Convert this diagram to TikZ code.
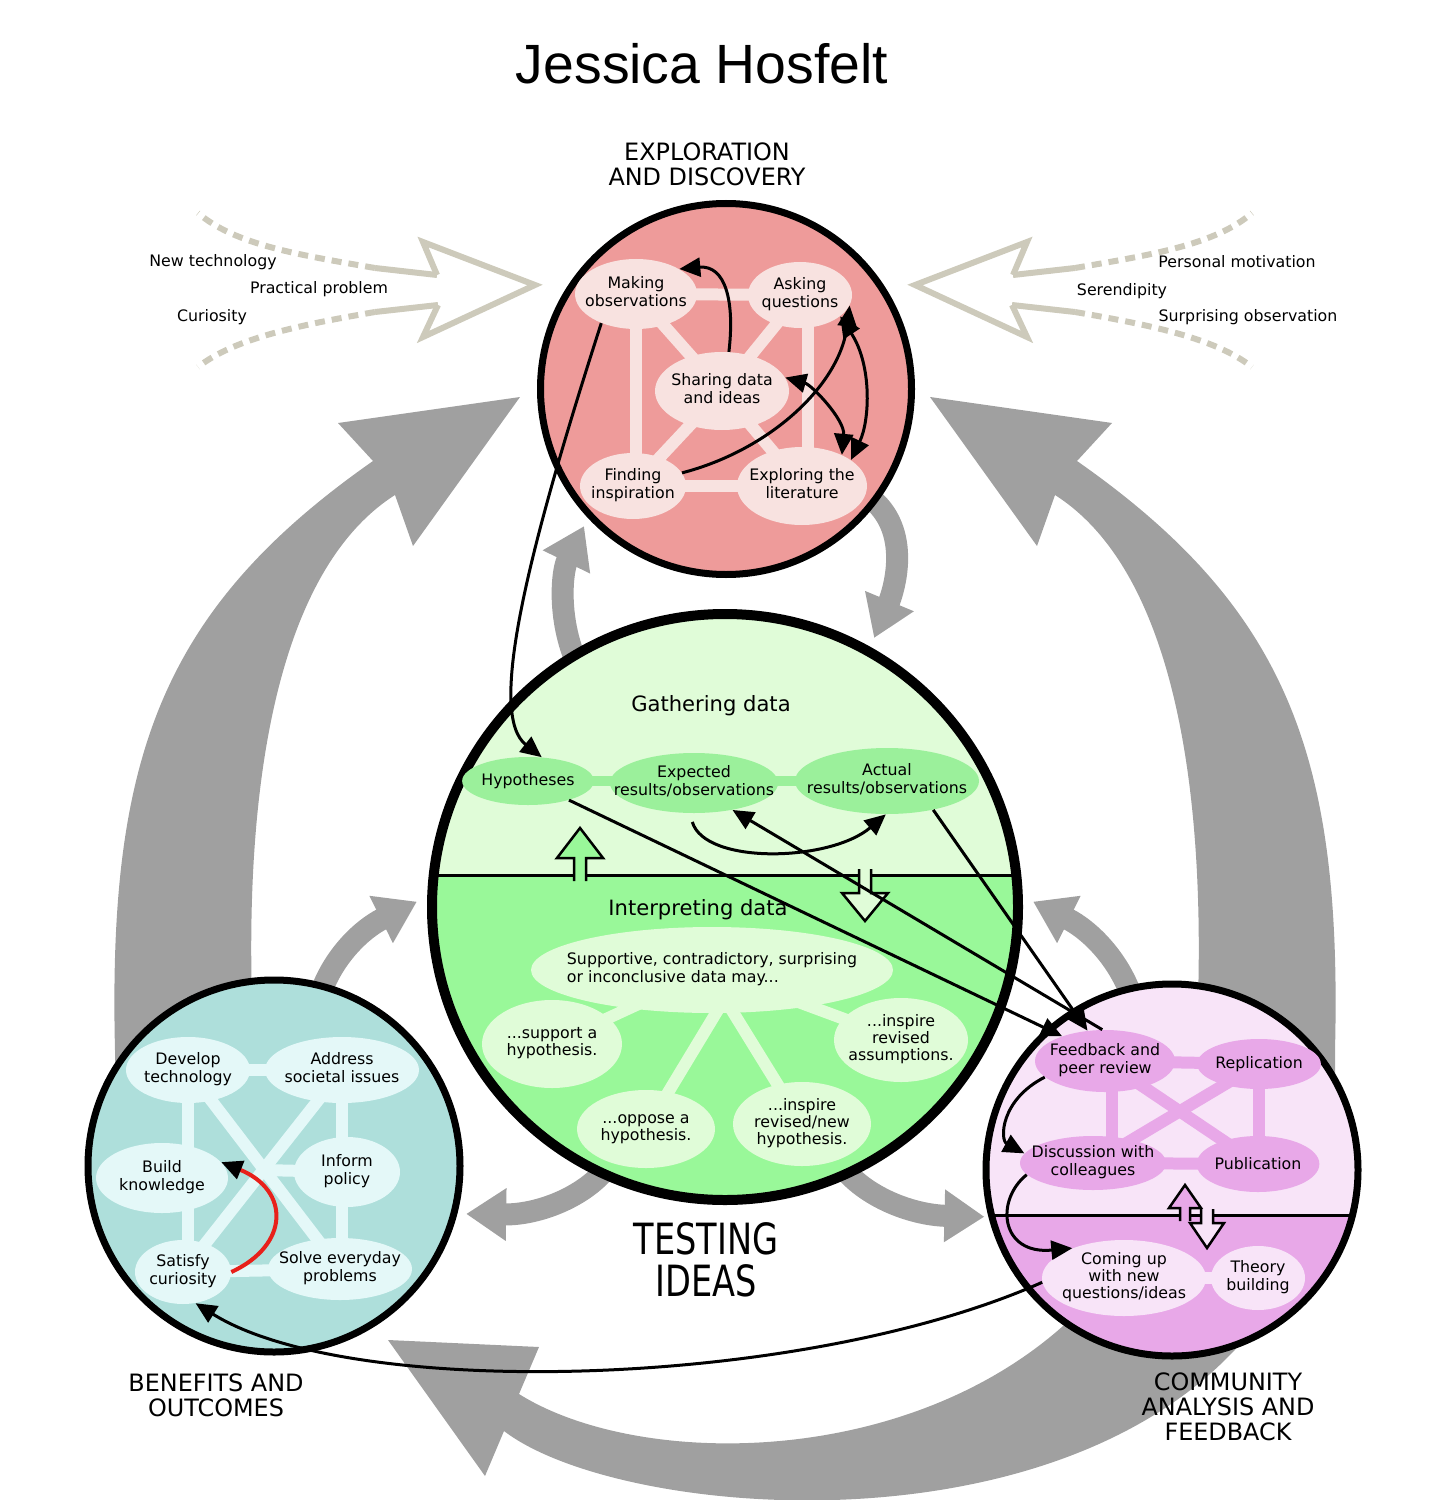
\documentclass[tikz,border=0pt]{standalone}
\usepackage{fontspec}
\setmainfont{DejaVu Sans}
\newfontfamily\titlefont{Liberation Sans}
\newfontfamily\narrowfont[FakeStretch=0.78]{DejaVu Sans}
\usepackage{tikz}
\usetikzlibrary{shapes.geometric, arrows.meta, calc}
\definecolor{ExploreFill}{RGB}{238, 155, 154}
\definecolor{ExploreLight}{RGB}{248, 226, 224}
\definecolor{TestTop}{RGB}{224, 252, 216}
\definecolor{TestLow}{RGB}{153, 248, 153}
\definecolor{TestBub}{RGB}{155, 240, 155}
\definecolor{BenefitFill}{RGB}{174, 223, 219}
\definecolor{BenefitLight}{RGB}{228, 248, 248}
\definecolor{CommTop}{RGB}{248, 228, 248}
\definecolor{CommLow}{RGB}{232, 168, 232}
\definecolor{Swoosh}{RGB}{160, 160, 160}
\definecolor{Lure}{RGB}{205, 202, 187}
\definecolor{RedLine}{RGB}{232, 32, 26}
\pgfdeclarelayer{swoosh}
\pgfdeclarelayer{back}
\pgfdeclarelayer{links}
\pgfsetlayers{swoosh,back,links,main}
\newcommand{\bubtext}[1]{\makebox[0pt]{\begin{tabular}{@{}c@{}}#1\end{tabular}}}
\newcommand{\bubtextl}[1]{\makebox[0pt]{\begin{tabular}{@{}l@{}}#1\end{tabular}}}

\begin{document}
\begin{tikzpicture}[x=0.02cm, y=-0.02cm,
      >={Triangle[length=0.42cm, width=0.38cm]},
      sz/.style 2 args={minimum width=#1*0.02cm, minimum height=#2*0.02cm},
      bub/.style={ellipse, inner sep=0pt, font=\fontsize{9}{9.6}\selectfont},
      rbub/.style={bub, fill=ExploreLight},
      gbub/.style={bub, fill=TestBub},
      lbub/.style={bub, fill=TestTop},
      tbub/.style={bub, fill=BenefitLight},
      pbub/.style={bub, fill=CommLow},
      plbub/.style={bub, fill=CommTop},
      stage/.style={circle, draw=black, line width=0.14cm, inner sep=0pt},
      link/.style={line width=0.24cm},
      conn/.style={->, line width=0.06cm},
      redconn/.style={draw=RedLine, line width=0.08cm, -{Triangle[length=0.42cm, width=0.38cm, color=black]}},
      feed/.style={draw=Swoosh, line width=0.44cm, -{Triangle[length=0.8cm, width=1.0cm]}},
      lure/.style={draw=Lure, line width=0.12cm},
      lurebroken/.style={lure, dash pattern=on 0.2cm off 0.14cm},
      hollow/.style={draw=black, line width=0.05cm, line join=miter},
      head/.style={font=\fontsize{13.6}{14.2}\selectfont, align=center},
      small/.style={font=\fontsize{9}{9.6}\selectfont}
    ]
      \useasboundingbox (0,0) rectangle (1447,1500);

      % titles
      \node[font=\titlefont\fontsize{31.5}{36}\selectfont] (title) at (702,64) {Jessica Hosfelt};
      \node[head] (explabel) at (707,164) {EXPLORATION\\AND DISCOVERY};
      \node[font=\narrowfont\fontsize{24.5}{24}\selectfont, align=center] (testlabel) at (706,1260) {TESTING\\IDEAS};
      \node[head] (benlabel) at (216,1395) {BENEFITS AND\\OUTCOMES};
      \node[head] (comlabel) at (1228,1407) {COMMUNITY\\ANALYSIS AND\\FEEDBACK};

      % the four stages
      \begin{pgfonlayer}{back}
      \node[stage, fill=ExploreFill, minimum size=371*0.02cm] (explore) at (726,389) {};
      \node[stage, line width=0.2cm, fill=TestTop, minimum size=586*0.02cm,
        path picture={\fill[TestLow] ([yshift=0.64cm]path picture bounding box.west) rectangle (path picture bounding box.south east);
          \draw[line width=0.06cm] ([yshift=0.64cm]path picture bounding box.west) -- ([yshift=0.64cm]path picture bounding box.east);}] (testing) at (725,907) {};
      \node[stage, fill=BenefitFill, minimum size=372*0.02cm] (benefits) at (274,1166) {};
      \node[stage, fill=CommTop, minimum size=372*0.02cm,
        path picture={\fill[CommLow] ([yshift=-0.9cm]path picture bounding box.west) rectangle (path picture bounding box.south east);
          \draw[line width=0.06cm] ([yshift=-0.9cm]path picture bounding box.west) -- ([yshift=-0.9cm]path picture bounding box.east);}] (community) at (1172,1170) {};
      \end{pgfonlayer}

      % big grey loop and small grey arrows
      \begin{pgfonlayer}{swoosh}
      \begin{scope}
        \clip (0,0) rectangle (1447,1500);
        \fill[Swoosh] (115,1100) -- (115,1050) .. controls (108,760) and (160,610) .. (373,461) -- (338,423) -- (520,397)
          -- (413,546) -- (395,495) .. controls (285,565) and (245,760) .. (252,1000) -- cycle;
        \fill[Swoosh] (1335,1100) -- (1335,1050) .. controls (1342,760) and (1290,610) .. (1077,461) -- (1112,423) -- (930,397)
          -- (1037,546) -- (1055,495) .. controls (1165,565) and (1205,760) .. (1198,1000) -- cycle;
        \fill[Swoosh] (1080,1310) .. controls (920,1470) and (640,1470) .. (519,1394) -- (539,1347) -- (388,1340)
          -- (485,1476) -- (504,1431) .. controls (620,1520) and (1080,1560) .. (1260,1320) -- cycle;
      \end{scope}
      \draw[feed] ($(explore.center)!0.937!(explore.-37)$) .. controls (915,530) and (892,595) .. ($(testing.center)!1.032!(testing.61)$);
      \draw[feed] ($(testing.center)!0.81!(testing.121)$) .. controls (555,650) and (560,575) .. ($(explore.center)!1.044!(explore.-136)$);
      \draw[feed] ($(benefits.center)!0.906!(benefits.75)$) .. controls (330,960) and (360,930) .. ($(testing.center)!1.034!(testing.179)$);
      \draw[feed] ($(testing.center)!0.933!(testing.-114)$) .. controls (590,1195) and (540,1215) .. ($(benefits.center)!1.045!(benefits.-14)$);
      \draw[feed] ($(community.center)!0.92!(community.103)$) .. controls (1120,960) and (1090,930) .. ($(testing.center)!1.034!(testing.1)$);
      \draw[feed] ($(testing.center)!0.933!(testing.-66)$) .. controls (860,1195) and (910,1215) .. ($(community.center)!1.02!(community.-166)$);
      \end{pgfonlayer}

      % outside influences
      \draw[lure, line join=miter] (437,275) -- (423,242) -- (535,285) -- (423,337) -- (438,305);
      \draw[lure] (437,275) -- (375,268);
      \draw[lurebroken] (375,268) .. controls (300,255) and (235,245) .. (198,213);
      \draw[lure] (438,305) -- (375,312);
      \draw[lurebroken] (375,312) .. controls (300,325) and (235,338) .. (198,367);
      \draw[lure, line join=miter] (1013,275) -- (1027,242) -- (915,285) -- (1027,337) -- (1012,305);
      \draw[lure] (1013,275) -- (1075,268);
      \draw[lurebroken] (1075,268) .. controls (1150,255) and (1215,245) .. (1252,213);
      \draw[lure] (1012,305) -- (1075,312);
      \draw[lurebroken] (1075,312) .. controls (1150,325) and (1215,338) .. (1252,367);
      \node[small] (newtech) at (213,262) {New technology};
      \node[small] (practical) at (319,289) {Practical problem};
      \node[small] (curiosity) at (212,317) {Curiosity};
      \node[small] (personal) at (1237,262) {Personal motivation};
      \node[small] (serendip) at (1122,291) {Serendipity};
      \node[small] (surprising) at (1248,317) {Surprising observation};

      % exploration and discovery
      \node[rbub, sz={122}{70}] (make) at (636,294) {\bubtext{Making\\observations}};
      \node[rbub, sz={104}{66}] (ask) at (800,295) {\bubtext{Asking\\questions}};
      \node[rbub, sz={134}{78}] (share) at (722,391) {\bubtext{Sharing data\\and ideas}};
      \node[rbub, sz={106}{66}] (find) at (633,486) {\bubtext{Finding\\inspiration}};
      \node[rbub, sz={130}{78}] (lit) at (802,486) {\bubtext{Exploring the\\literature}};

      % testing ideas
      \node[font=\fontsize{12}{13}\selectfont] (gather) at (711,706) {Gathering data};
      \node[gbub, sz={120}{48}] (hypo) at (528,781) {Hypotheses};
      \node[gbub, sz={168}{60}] (expect) at (694,783) {\bubtext{Expected\\results/observations}};
      \node[gbub, sz={184}{66}] (actual) at (887,781) {\bubtext{Actual\\results/observations}};
      \node[font=\fontsize{12}{13}\selectfont] (interpret) at (698,910) {Interpreting data};
      \node[lbub, sz={362}{86}] (may) at (712,970) {\bubtextl{Supportive, contradictory, surprising\\or inconclusive data may...}};
      \node[lbub, sz={140}{88}] (support) at (552,1044) {\bubtext{...support a\\hypothesis.}};
      \node[lbub, sz={138}{78}] (oppose) at (646,1129) {\bubtext{...oppose a\\hypothesis.}};
      \node[lbub, sz={138}{84}] (newhyp) at (802,1124) {\bubtext{...inspire\\revised/new\\hypothesis.}};
      \node[lbub, sz={134}{84}] (assume) at (901,1040) {\bubtext{...inspire\\revised\\assumptions.}};
      \draw[hollow, fill=TestLow] (574,881) -- (574,858) -- (557,858) -- (580,828) -- (603,858) -- (586,858) -- (586,881);
      \draw[hollow, fill=TestTop] (859,869) -- (859,893) -- (842,893) -- (865,921) -- (888,893) -- (871,893) -- (871,869);

      % benefits and outcomes
      \node[tbub, sz={124}{66}] (tech) at (188,1070) {\bubtext{Develop\\technology}};
      \node[tbub, sz={154}{66}] (society) at (342,1070) {\bubtext{Address\\societal issues}};
      \node[tbub, sz={132}{70}] (know) at (162,1178) {\bubtext{Build\\knowledge}};
      \node[tbub, sz={106}{70}] (policy) at (347,1172) {\bubtext{Inform\\policy}};
      \node[tbub, sz={96}{64}] (curious) at (183,1272) {\bubtext{Satisfy\\curiosity}};
      \node[tbub, sz={144}{62}] (everyday) at (340,1269) {\bubtext{Solve everyday\\problems}};
      \coordinate (hub) at (262,1170);

      % community analysis and feedback
      \node[pbub, sz={140}{62}] (review) at (1105,1061) {\bubtext{Feedback and\\peer review}};
      \node[pbub, sz={104}{50}] (replic) at (1259,1064) {Replication};
      \node[pbub, sz={146}{54}] (discuss) at (1093,1163) {\bubtext{Discussion with\\colleagues}};
      \node[pbub, sz={106}{56}] (publish) at (1258,1164) {Publication};
      \node[plbub, sz={164}{76}] (comingup) at (1124,1278) {\bubtext{Coming up\\with new\\questions/ideas}};
      \node[plbub, sz={94}{64}] (theory) at (1258,1278) {\bubtext{Theory\\building}};
      \draw[hollow, fill=CommLow] (1180,1221) -- (1180,1208) -- (1169,1208) -- (1185,1185) -- (1201,1208) -- (1190,1208) -- (1190,1221);
      \draw[hollow, fill=CommTop] (1201,1209) -- (1201,1223) -- (1190,1223) -- (1207,1248) -- (1224,1223) -- (1213,1223) -- (1213,1209);

      % links between bubbles
      \begin{pgfonlayer}{links}
      \draw[link, ExploreLight] (make.center) -- (ask.center);
      \draw[link, ExploreLight] (find.center) -- (lit.center);
      \draw[link, ExploreLight] (make.center) -- (make.center |- find.center);
      \draw[link, ExploreLight] ([xshift=0.16cm]ask.center) -- ([xshift=0.16cm]ask.center |- lit.center);
      \foreach \b in {make, ask, find, lit}
        \draw[link, ExploreLight] (share.center) -- (\b.center);
      \draw[link, line width=0.2cm, TestBub] (hypo.center) -- (actual.center);
      \draw[link, TestTop] (may.center) -- (support.center);
      \draw[link, TestTop] (may.center) -- (assume.center);
      \draw[link, TestTop] ([xshift=0.6cm]may.center) -- (oppose.center);
      \draw[link, TestTop] ([xshift=-0.1cm]may.center) -- (newhyp.center);
      \draw[link, BenefitLight] (tech.center) -- (society.center);
      \draw[link, BenefitLight] (curious.center) -- (everyday.center);
      \draw[link, BenefitLight] (tech.center) -- (tech.center |- curious.center);
      \draw[link, BenefitLight] (society.center) -- (society.center |- everyday.center);
      \draw[link, BenefitLight] (tech.center) -- (everyday.center);
      \draw[link, BenefitLight] (society.center) -- (curious.center);
      \draw[link, BenefitLight] (hub) -- (policy.center);
      \draw[link, CommLow] (review.center) -- (replic.center);
      \draw[link, CommLow] (discuss.center) -- (publish.center);
      \draw[link, CommLow] ([xshift=0.14cm]review.center) -- ([xshift=0.14cm]review.center |- discuss.center);
      \draw[link, CommLow] (replic.center) -- (replic.center |- publish.center);
      \draw[link, CommLow] (review.center) -- (publish.center);
      \draw[link, CommLow] (replic.center) -- (discuss.center);
      \draw[link, CommTop] (comingup.center) -- (theory.center);
      \end{pgfonlayer}

      % arrows between ideas
      \draw[conn] (share.80) .. controls (735,300) and (725,265) .. (make.30);
      \draw[conn] (find.15) .. controls (770,450) and (840,385) .. (ask.-12);
      \draw[conn, <->] (ask.-28) .. controls (872,365) and (870,420) .. (lit.28);
      \draw[conn, <->] (share.12) .. controls (812,385) and (845,420) .. (lit.38);
      \draw[conn] (make.-140) .. controls (525,560) and (488,715) .. (hypo.60);
      \draw[conn, shorten <=0.18cm] (expect.-98) .. controls (705,865) and (830,862) .. (actual.-92);
      \draw[conn] (hypo.-25) -- (review.150);
      \draw[conn] (actual.-32) -- (review.120);
      \draw[conn] (review.95) -- (expect.-35);
      \draw[conn] (review.-165) .. controls (1000,1100) and (1000,1140) .. (discuss.172);
      \draw[conn] (discuss.-170) .. controls (995,1200) and (1000,1255) .. (comingup.150);
      \draw[conn] (comingup.183) .. controls (800,1390) and (350,1400) .. (curious.-68);
      \draw[redconn] (curious.east) .. controls (290,1245) and (290,1190) .. (know.15);
    \end{tikzpicture}
\end{document}
